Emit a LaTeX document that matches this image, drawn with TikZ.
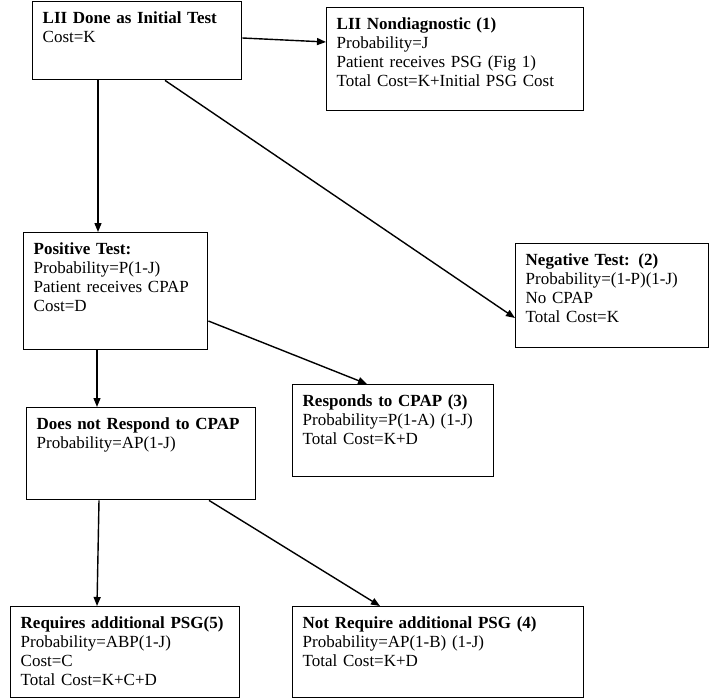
\documentclass[tikz,border=0pt]{standalone}
\usepackage{fontspec}
\setmainfont{Liberation Serif}
\usetikzlibrary{arrows.meta}

\begin{document}
\begin{tikzpicture}[x=1pt, y=-1pt, >={Triangle[length=9pt,width=7pt]},
		font=\fontsize{17}{19}\selectfont,
		box/.style 2 args={draw, line width=1.4pt, anchor=north west, align=left,
			inner xsep=10pt, inner ysep=0pt, text width=#1, text height=22pt, text depth=#2},
		link/.style={->, line width=1.4pt}]
		\useasboundingbox (0,0) rectangle (710,698);
		% boxes
		\node[box={189pt}{56pt}] (lii) at (32,1) {\textbf{LII Done as Initial Test}\\Cost=K};
		\node[box={237pt}{81pt}] (nondiag) at (326,7) {\textbf{LII Nondiagnostic (1)}\\Probability=J\\Patient receives PSG (Fig 1)\\Total Cost=K+Initial PSG Cost};
		\node[box={164pt}{95pt}] (pos) at (23,232) {\textbf{Positive Test:}\\Probability=P(1-J)\\Patient receives CPAP\\Cost=D};
		\node[box={173pt}{82pt}] (neg) at (515,243) {\textbf{Negative Test: (2)}\\Probability=(1-P)(1-J)\\No CPAP\\Total Cost=K};
		\node[box={181pt}{70pt}] (resp) at (292,384) {\textbf{Responds to CPAP (3)}\\Probability=P(1-A) (1-J)\\Total Cost=K+D};
		\node[box={209pt}{70pt}] (noresp) at (26,407) {\textbf{Does not Respond to CPAP}\\Probability=AP(1-J)};
		\node[box={209pt}{69pt}] (req) at (10,606) {\textbf{Requires additional PSG(5)}\\Probability=ABP(1-J)\\Cost=C\\Total Cost=K+C+D};
		\node[box={271pt}{69pt}] (noreq) at (292,606) {\textbf{Not Require additional PSG (4)}\\Probability=AP(1-B) (1-J)\\Total Cost=K+D};
		% arrows
		\draw[link] ([yshift=-37pt]lii.north east) -- ([yshift=-35pt]nondiag.north west);
		\draw[link] ([xshift=66pt]lii.south west) -- ([xshift=75pt]pos.north west);
		\draw[link] ([xshift=133pt]lii.south west) -- ([yshift=-75pt]neg.north west);
		\draw[link] ([yshift=-89pt]pos.north east) -- ([xshift=75pt]resp.north west);
		\draw[link] ([xshift=74pt]pos.south west) -- ([xshift=71pt]noresp.north west);
		\draw[link] ([xshift=73pt]noresp.south west) -- ([xshift=87pt]req.north west);
		\draw[link] ([xshift=183pt]noresp.south west) -- ([xshift=88pt]noreq.north west);
	\end{tikzpicture}
\end{document}
